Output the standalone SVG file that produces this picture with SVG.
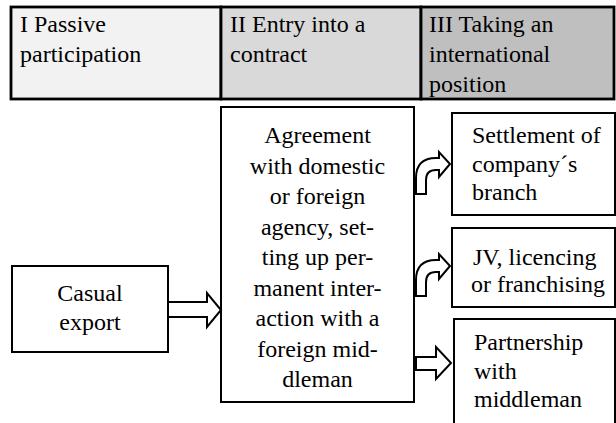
<svg xmlns="http://www.w3.org/2000/svg" width="616" height="423" viewBox="0 0 616 423" font-family="Liberation Serif">
<style>
.t{font-family:'Liberation Serif',serif;font-size:24px;fill:#000}
.box{fill:#fff;stroke:#000;stroke-width:2}
.hdr{stroke:#000;stroke-width:2.8}
.arr{fill:#fff;stroke:#000;stroke-width:2;stroke-linejoin:miter}
.c{text-anchor:middle}
</style>
<rect width="616" height="423" fill="#fff"/>
<g id="header">
<rect class="hdr" x="11" y="7" width="210" height="92" fill="#f2f2f2"/>
<rect class="hdr" x="221" y="7" width="200" height="92" fill="#d9d9d9"/>
<rect class="hdr" x="421" y="7" width="193" height="92" fill="#bfbfbf"/>
<text class="t" x="20" y="32">I Passive</text>
<text class="t" x="20" y="62">participation</text>
<text class="t" x="230" y="32">II Entry into a</text>
<text class="t" x="230" y="62">contract</text>
<text class="t" x="429" y="32">III Taking an</text>
<text class="t" x="429" y="62">international</text>
<text class="t" x="429" y="92">position</text>
</g>
<g id="casual">
<rect class="box" x="12" y="266" width="156" height="86"/>
<text class="t c" x="90" y="301">Casual</text>
<text class="t c" x="90" y="330">export</text>
</g>
<g id="agreement">
<rect class="box" x="221" y="107" width="193" height="295"/>
<text class="t c" x="317.5" y="143">Agreement</text>
<text class="t c" x="317.5" y="173.5">with domestic</text>
<text class="t c" x="317.5" y="204">or foreign</text>
<text class="t c" x="317.5" y="234.5">agency, set-</text>
<text class="t c" x="317.5" y="265">ting up per-</text>
<text class="t c" x="317.5" y="295.5">manent inter-</text>
<text class="t c" x="317.5" y="326">action with a</text>
<text class="t c" x="317.5" y="356.5">foreign mid-</text>
<text class="t c" x="317.5" y="387">dleman</text>
</g>
<g id="settlement">
<rect class="box" x="452" y="113" width="163" height="102"/>
<text class="t" x="472" y="143">Settlement of</text>
<text class="t" x="472" y="172">company´s</text>
<text class="t" x="472" y="200">branch</text>
</g>
<g id="jv">
<rect class="box" x="452" y="228" width="163" height="79"/>
<text class="t" x="473" y="265">JV, licencing</text>
<text class="t" x="471" y="292">or franchising</text>
</g>
<g id="partnership">
<rect class="box" x="454" y="319" width="161" height="110"/>
<text class="t" x="474" y="350">Partnership</text>
<text class="t" x="474" y="379">with</text>
<text class="t" x="474" y="407">middleman</text>
</g>
<g id="connectors">
<path class="arr" d="M168,302 L207,302 L207,293 L221,310 L207,327 L207,317 L168,317 Z"/>
<path class="arr" d="M416,194 L416,178 Q416,158 436,158 L439,158 L439,152 L450,164 L439,177 L439,170 L436,170 Q426,170 426,180 L426,194 Z"/>
<path class="arr" d="M416,296 L416,280 Q416,260 436,260 L439,260 L439,254 L450,266 L439,279 L439,272 L436,272 Q426,272 426,282 L426,296 Z"/>
<path class="arr" d="M416,357 L436,357 L436,347 L451,363 L436,379 L436,370 L416,370 Z"/>
</g>
</svg>
